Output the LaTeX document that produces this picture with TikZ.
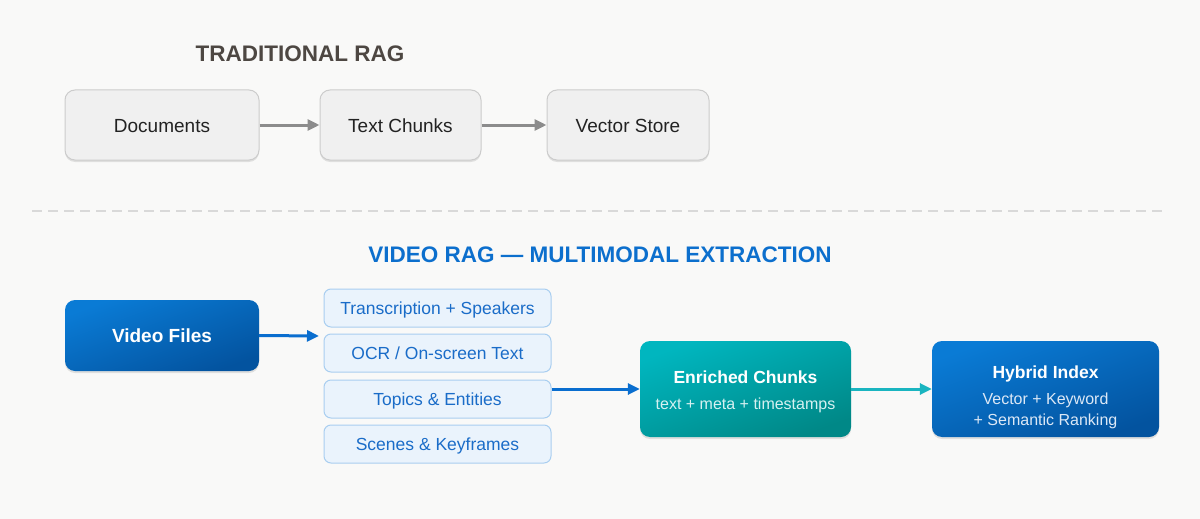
\documentclass[tikz,border=0pt]{standalone}
\usepackage{fontspec}
\setmainfont{Liberation Sans}
\usetikzlibrary{arrows.meta,shadows}
\definecolor{bg}{HTML}{F9F9F8}
\definecolor{graybox}{HTML}{F0F0F0}
\definecolor{grayline}{HTML}{CCCCCC}
\definecolor{grayarrow}{HTML}{8C8C8C}
\definecolor{toptitle}{HTML}{4D4742}
\definecolor{toptext}{HTML}{222222}
\definecolor{dashcol}{HTML}{D9D9D9}
\definecolor{vtitle}{HTML}{0C6FCD}
\definecolor{blueA}{HTML}{0A7BD5}
\definecolor{blueB}{HTML}{03539F}
\definecolor{tealA}{HTML}{00B6BF}
\definecolor{tealB}{HTML}{008887}
\definecolor{lightfill}{HTML}{EAF3FC}
\definecolor{lightline}{HTML}{A9CEF0}
\definecolor{lighttext}{HTML}{1A6CC8}
\definecolor{bluearrow}{HTML}{0A6ECF}
\definecolor{tealarrow}{HTML}{1AB5C0}
\definecolor{subteal}{HTML}{D6F1F1}
\definecolor{subblue}{HTML}{DCE8F6}
\tikzset{
  softshadow/.style={drop shadow={shadow xshift=0pt,shadow yshift=-2pt,opacity=0.10,fill=black}},
  topbox/.style={draw=grayline,line width=1pt,fill=graybox,rounded corners=10pt,
    minimum height=70pt,text=toptext,font=\fontsize{19}{22}\selectfont,
    text height=17pt,text depth=1.4pt,softshadow},
  graystep/.style={draw=grayarrow,line width=3pt,-{Triangle[length=12pt,width=11pt]}},
  modbox/.style={draw=lightline,line width=1pt,fill=lightfill,rounded corners=7pt,
    minimum width=227pt,minimum height=38pt,text=lighttext,font=\fontsize{17.5}{20}\selectfont,
    text height=14pt,text depth=1pt},
  bluebox/.style={rounded corners=10pt,shading=axis,top color=blueA,bottom color=blueB,
    shading angle=20,text=white,align=center,softshadow},
  tealbox/.style={rounded corners=10pt,shading=axis,top color=tealA,bottom color=tealB,
    shading angle=20,text=white,align=center,softshadow},
  bluestep/.style={draw=bluearrow,line width=3pt,-{Triangle[length=12pt,width=11pt]}},
  tealstep/.style={draw=tealarrow,line width=3pt,-{Triangle[length=12pt,width=11pt]}},
  bigtitle/.style={font=\bfseries\fontsize{22.5}{26}\selectfont,inner sep=0pt}
}
\begin{document}
\begin{tikzpicture}[x=1pt,y=-1pt]
\fill[bg] (0,0) rectangle (1200,519);
\useasboundingbox (0,0) rectangle (1200,519);

% Traditional RAG
\node[bigtitle,text=toptitle] (t1) at (300,54) {TRADITIONAL RAG};
\node[topbox,minimum width=194pt] (docs) at (162,125) {Documents};
\node[topbox,minimum width=161pt] (chunks) at (400.5,125) {Text Chunks};
\node[topbox,minimum width=162pt] (store) at (628,125) {Vector Store};
\draw[graystep] (docs.east) -- (chunks.west);
\draw[graystep] (chunks.east) -- (store.west);

% separator
\coordinate (sepL) at (32,211);
\coordinate (sepR) at (1162,211);
\draw[dashcol,line width=1.5pt,dash pattern=on 10pt off 6pt] (sepL) -- (sepR);

% Video RAG
\node[bigtitle,text=vtitle] (t2) at (600,255) {VIDEO RAG — MULTIMODAL EXTRACTION};
\node[bluebox,minimum width=194pt,minimum height=71pt,font=\bfseries\fontsize{19}{22}\selectfont,
  text height=16pt,text depth=1.2pt] (video) at (162,335.5) {Video Files};

\node[modbox] (m1) at (437.5,308) {Transcription + Speakers};
\node[modbox] (m2) at (437.5,353) {OCR / On-screen Text};
\node[modbox] (m3) at (437.5,399) {Topics \& Entities};
\node[modbox] (m4) at (437.5,444) {Scenes \& Keyframes};

\coordinate (vin) at (319,336);
\draw[bluestep] (video.east) -- (vin);

\node[tealbox,minimum width=211pt,minimum height=96pt,font=\fontsize{16}{21}\selectfont] (enr) at (745.5,389) {%
  \rule{0pt}{19pt}{\bfseries\fontsize{17.5}{20}\selectfont Enriched Chunks}\\[5pt]
  {\color{subteal}text + meta + timestamps}};
\node[bluebox,minimum width=227pt,minimum height=96pt,font=\fontsize{16}{21}\selectfont] (hyb) at (1045.5,389) {%
  \rule{0pt}{29pt}{\bfseries\fontsize{17.5}{20}\selectfont Hybrid Index}\\[5pt]
  {\color{subblue}Vector + Keyword}\\
  {\color{subblue}+ Semantic Ranking}};

\draw[bluestep] (m3.east |- enr.west) -- (enr.west);
\draw[tealstep] (enr.east) -- (hyb.west);
\end{tikzpicture}
\end{document}
